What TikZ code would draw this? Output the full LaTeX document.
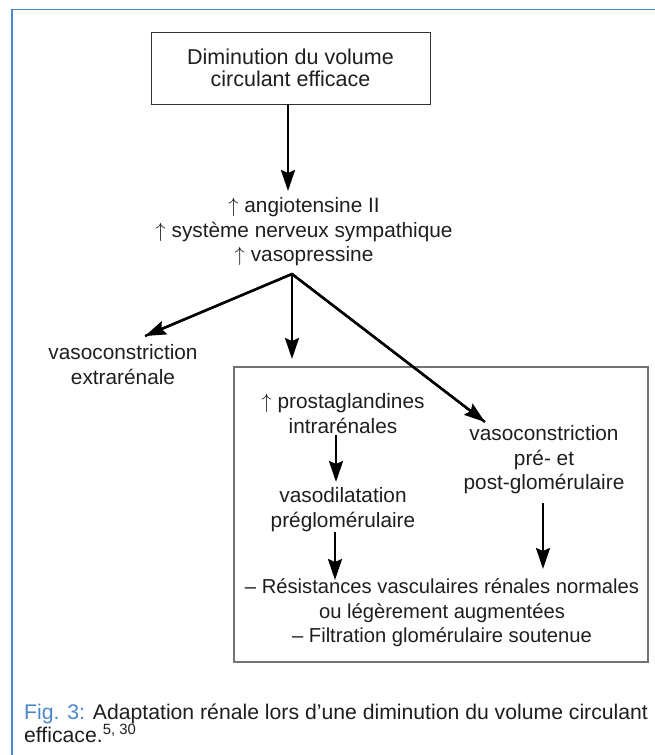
\documentclass[tikz,border=0pt]{standalone}
\usepackage{fontspec}
\setmainfont{Liberation Sans}
\usetikzlibrary{arrows.meta}
\definecolor{frameblue}{RGB}{74,136,204}
\definecolor{txt}{RGB}{30,30,30}
\definecolor{boxgray}{RGB}{115,115,115}
\begin{document}
\begin{tikzpicture}[x=1pt,y=-1pt,
  lbl/.style={inner sep=0pt, align=center, text=txt, font=\fontsize{20.8}{24.5}\selectfont},
  arr/.style={line width=2.4pt, draw=black, -{Stealth[length=21pt,width=14pt,inset=3pt]}}]
\useasboundingbox (0,0) rectangle (655,755);
% frame
\draw[frameblue, line width=1.8pt] (12,755) -- (12,9.5) -- (655,9.5);
% nodes
\node[draw=black!80, line width=1pt, minimum width=279pt, minimum height=72pt, inner sep=0pt,
      align=center, text=txt, font=\fontsize{21.5}{22}\selectfont] (top) at (290.5,68)
      {Diminution du volume\\circulant efficace};
\node[lbl] (mid) at (304,232) {$\uparrow$ angiotensine II\\$\uparrow$ système nerveux sympathique\\$\uparrow$ vasopressine};
\node[lbl] (left) at (123,364.5) {vasoconstriction\\extrarénale};
\node[draw=boxgray, line width=2pt, minimum width=414pt, minimum height=295pt, inner sep=0pt] (renal) at (441,514.5) {};
\node[lbl] (pg) at (343,413.5) {$\uparrow$ prostaglandines\\intrarénales};
\node[lbl] (vd) at (343,509.5) {vasodilatation\\préglomérulaire};
\node[lbl] (vc) at (544,460) {vasoconstriction\\pré- et\\post-glomérulaire};
\node[lbl, font=\fontsize{20.2}{24.5}\selectfont] (res) at (442,613) {– Résistances vasculaires rénales normales\\ou légèrement augmentées\\– Filtration glomérulaire soutenue};
\node[inner sep=0pt, align=left, anchor=west, text=txt, font=\fontsize{21.2}{20}\selectfont] (cap) at (24,723)
  {\textcolor{frameblue}{Fig. 3:} Adaptation rénale lors d’une diminution du volume circulant\\efficace.\textsuperscript{5, 30}};
% connector coordinates
\coordinate (br) at (292,274);
\coordinate (t0) at (288,104);
\coordinate (t1) at (288,191);
\coordinate (tl) at (145,336);
\coordinate (tm) at (292,359);
\coordinate (tr) at (485,422);
\coordinate (p0) at (336,435);
\coordinate (p1) at (336,482);
\coordinate (v0) at (335,532);
\coordinate (v1) at (335,580);
\coordinate (c0) at (543,503);
\coordinate (c1) at (543,569);
% connectors
\draw[arr] (t0) -- (t1);
\draw[line width=2.4pt, line join=miter] (tl) -- (br) -- (tr);
\draw[arr] (br) -- (tl);
\draw[arr] (br) -- (tm);
\draw[arr] (br) -- (tr);
\draw[arr] (p0) -- (p1);
\draw[arr] (v0) -- (v1);
\draw[arr] (c0) -- (c1);
\end{tikzpicture}
\end{document}
